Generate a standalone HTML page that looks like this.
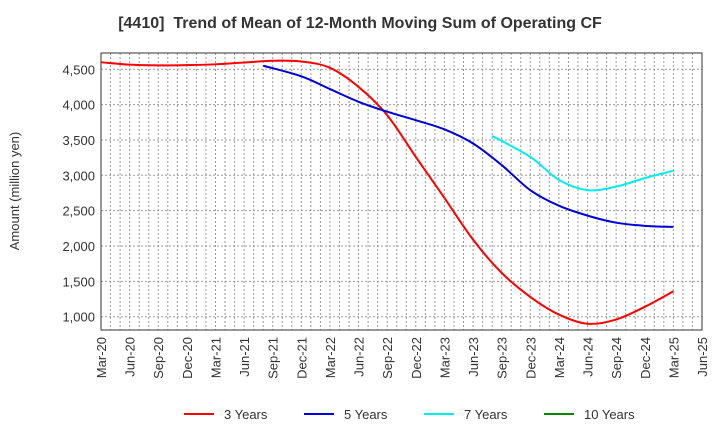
<!DOCTYPE html>
<html><head><meta charset="utf-8"><style>
body{margin:0;background:#fff;font-family:"Liberation Sans",Arial,sans-serif;}
</style></head><body>
<svg id="chart" width="720" height="440" xmlns="http://www.w3.org/2000/svg">
<text x="360" y="28" text-anchor="middle" font-size="16" font-weight="bold" fill="#333">[4410]&#160; Trend of Mean of 12-Month Moving Sum of Operating CF</text>
<text transform="translate(19,191) rotate(-90)" text-anchor="middle" font-size="13" fill="#333">Amount (million yen)</text>
<g id="grid"></g><g id="axes"></g><g id="series"></g><g id="legend"></g>
</svg>
<script>
const xLabels=["Mar-20","Jun-20","Sep-20","Dec-20","Mar-21","Jun-21","Sep-21","Dec-21","Mar-22","Jun-22","Sep-22","Dec-22","Mar-23","Jun-23","Sep-23","Dec-23","Mar-24","Jun-24","Sep-24","Dec-24","Mar-25","Jun-25"];
const yTicks=[1000,1500,2000,2500,3000,3500,4000,4500];
const seriesNames=["3 Years","5 Years","7 Years","10 Years"];
const seriesColors=["#ff0000","#0000dd","#00eeee","#008800"];
// x positions are quarter indexes from Mar-20 (fractional = months)
const s3x=[0,1,2,3,4,5,6,7,8,9,10,11,12,13,14,15,16,17,18,19,20];
const s3=[4600,4565,4555,4558,4570,4595,4620,4610,4520,4250,3850,3260,2680,2090,1620,1280,1030,900,960,1140,1360];
const s5x=[5.67,7,8,9,10,11,12,13,14,15,16,17,18,19,20];
const s5=[4550,4400,4220,4040,3900,3780,3650,3450,3145,2790,2570,2430,2330,2285,2270];
const s7x=[13.67,15,16,17,18,19,20];
const s7=[3557,3260,2935,2790,2840,2960,3065];
const s10x=[];
const s10=[];
const NS="http://www.w3.org/2000/svg";
const L=101,R=702,T=53,B=330,yMin=812,yMax=4730;
const xs=i=>L+i*(R-L)/21;
const ys=v=>B-(v-yMin)/(yMax-yMin)*(B-T);
function mk(tag,attrs,parent){const e=document.createElementNS(NS,tag);for(const k in attrs)e.setAttribute(k,attrs[k]);parent.appendChild(e);return e;}
const grid=document.getElementById('grid'),axes=document.getElementById('axes'),ser=document.getElementById('series'),leg=document.getElementById('legend');
for(let m=1;m<63;m++){const x=L+m*(R-L)/63;const g=mk('line',{x1:x,x2:x,y1:T,y2:B,stroke:'#999','stroke-width':1,'stroke-dasharray':'2,2'},grid);

}
yTicks.forEach(v=>{const g=mk('line',{x1:L,x2:R,y1:ys(v),y2:ys(v),stroke:'#999','stroke-width':1,'stroke-dasharray':'2,2'},grid);


const t=mk('text',{x:L-6,y:ys(v)+5,'text-anchor':'end','font-size':13,fill:'#333'},axes);t.textContent=v.toLocaleString('en-US');

});
xLabels.forEach((lb,i)=>{const t=mk('text',{transform:`translate(${xs(i)+5},${B+7}) rotate(-90)`,'text-anchor':'end','font-size':13,fill:'#333'},axes);t.textContent=lb;

});
const fr=mk('rect',{x:L,y:T,width:R-L,height:B-T,fill:'none',stroke:'#333','stroke-width':1},axes);


function path(xa,arr){const p=[];arr.forEach((v,i)=>{if(v!=null)p.push([xs(xa[i]),ys(v)]);});if(p.length<2)return '';
let d=`M${p[0][0]},${p[0][1]}`;for(let i=0;i<p.length-1;i++){const p0=p[i-1]||p[i],p1=p[i],p2=p[i+1],p3=p[i+2]||p2;
d+=` C${p1[0]+(p2[0]-p0[0])/6},${p1[1]+(p2[1]-p0[1])/6} ${p2[0]-(p3[0]-p1[0])/6},${p2[1]-(p3[1]-p1[1])/6} ${p2[0]},${p2[1]}`;}return d;}
[[s3x,s3],[s5x,s5],[s7x,s7],[s10x,s10]].forEach((pair,k)=>{const d=path(pair[0],pair[1]);if(!d)return;const e=mk('path',{d,fill:'none',stroke:seriesColors[k],'stroke-width':2},ser);

});
const lx=[184,304,424,544];
seriesNames.forEach((n,k)=>{const g=mk('g',{},leg);


mk('line',{x1:lx[k],x2:lx[k]+30,y1:414,y2:414,stroke:seriesColors[k],'stroke-width':2},g);
const t=mk('text',{x:lx[k]+40,y:419,'font-size':13,fill:'#333'},g);t.textContent=n;});
</script>
</body></html>
